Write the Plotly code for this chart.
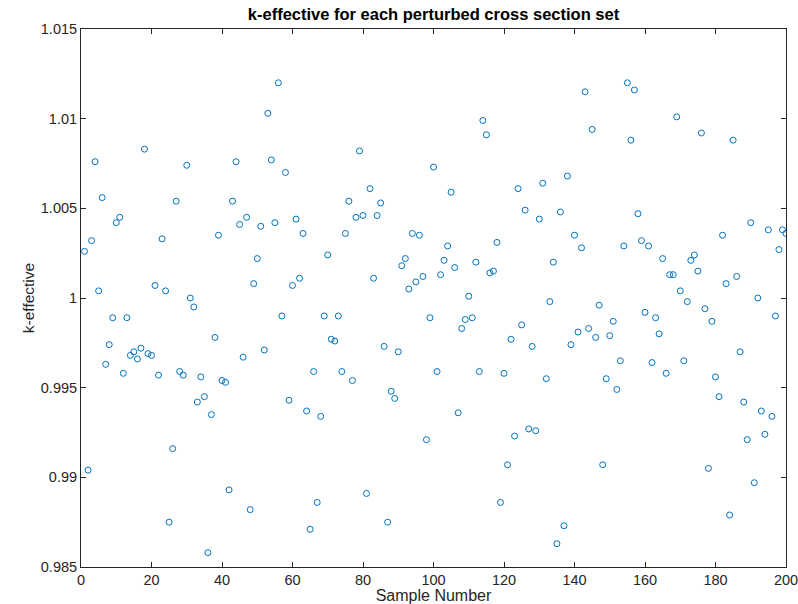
import plotly.graph_objects as go

sample_number = list(range(1, 201))
k_effective = [
    1.0026, 0.9904, 1.0032, 1.0076, 1.0004, 1.0056, 0.9963, 0.9974, 0.9989, 1.0042,
    1.0045, 0.9958, 0.9989, 0.9968, 0.9970, 0.9966, 0.9972, 1.0083, 0.9969, 0.9968,
    1.0007, 0.9957, 1.0033, 1.0004, 0.9875, 0.9916, 1.0054, 0.9959, 0.9957, 1.0074,
    1.0000, 0.9995, 0.9942, 0.9956, 0.9945, 0.9858, 0.9935, 0.9978, 1.0035, 0.9954,
    0.9953, 0.9893, 1.0054, 1.0076, 1.0041, 0.9967, 1.0045, 0.9882, 1.0008, 1.0022,
    1.0040, 0.9971, 1.0103, 1.0077, 1.0042, 1.0120, 0.9990, 1.0070, 0.9943, 1.0007,
    1.0044, 1.0011, 1.0036, 0.9937, 0.9871, 0.9959, 0.9886, 0.9934, 0.9990, 1.0024,
    0.9977, 0.9976, 0.9990, 0.9959, 1.0036, 1.0054, 0.9954, 1.0045, 1.0082, 1.0046,
    0.9891, 1.0061, 1.0011, 1.0046, 1.0053, 0.9973, 0.9875, 0.9948, 0.9944, 0.9970,
    1.0018, 1.0022, 1.0005, 1.0036, 1.0009, 1.0035, 1.0012, 0.9921, 0.9989, 1.0073,
    0.9959, 1.0013, 1.0021, 1.0029, 1.0059, 1.0017, 0.9936, 0.9983, 0.9988, 1.0001,
    0.9989, 1.0020, 0.9959, 1.0099, 1.0091, 1.0014, 1.0015, 1.0031, 0.9886, 0.9958,
    0.9907, 0.9977, 0.9923, 1.0061, 0.9985, 1.0049, 0.9927, 0.9973, 0.9926, 1.0044,
    1.0064, 0.9955, 0.9998, 1.0020, 0.9863, 1.0048, 0.9873, 1.0068, 0.9974, 1.0035,
    0.9981, 1.0028, 1.0115, 0.9983, 1.0094, 0.9978, 0.9996, 0.9907, 0.9955, 0.9979,
    0.9987, 0.9949, 0.9965, 1.0029, 1.0120, 1.0088, 1.0116, 1.0047, 1.0032, 0.9992,
    1.0029, 0.9964, 0.9989, 0.9980, 1.0022, 0.9958, 1.0013, 1.0013, 1.0101, 1.0004,
    0.9965, 0.9998, 1.0021, 1.0024, 1.0015, 1.0092, 0.9994, 0.9905, 0.9987, 0.9956,
    0.9945, 1.0035, 1.0008, 0.9879, 1.0088, 1.0012, 0.9970, 0.9942, 0.9921, 1.0042,
    0.9897, 1.0000, 0.9937, 0.9924, 1.0038, 0.9934, 0.9990, 1.0027, 1.0038, 1.0036,
]

x_ticks = [0, 20, 40, 60, 80, 100, 120, 140, 160, 180, 200]
y_ticks = [0.985, 0.99, 0.995, 1.0, 1.005, 1.01, 1.015]
y_tick_labels = ["0.985", "0.99", "0.995", "1", "1.005", "1.01", "1.015"]

axis_color = "#262626"
font_family = "Liberation Sans, Arial, sans-serif"

fig = go.Figure(
    go.Scatter(
        x=sample_number,
        y=k_effective,
        mode="markers",
        marker=dict(symbol="circle-open", size=6, color="#0072BD",
                    line=dict(width=1, color="#0072BD")),
        showlegend=False,
    )
)

axis_common = dict(
    showgrid=False,
    zeroline=False,
    showline=True,
    linecolor=axis_color,
    linewidth=1,
    mirror="allticks",
    ticks="inside",
    ticklen=5,
    tickwidth=1,
    tickcolor=axis_color,
    tickfont=dict(family=font_family, size=14.5, color=axis_color),
    ticklabeloverflow="allow",
    automargin=False,
)

fig.update_layout(
    width=798,
    height=604,
    margin=dict(l=81, r=12, t=29, b=37),
    paper_bgcolor="white",
    plot_bgcolor="white",
    font=dict(family=font_family, color=axis_color),
    title=dict(
        text="<b>k-effective for each perturbed cross section set</b>",
        x=0.5, xref="paper", xanchor="center",
        y=1 - 14 / 604, yref="container", yanchor="middle",
        font=dict(family=font_family, size=16.5, color="#000000"),
    ),
    xaxis=dict(
        range=[0, 200],
        tickvals=x_ticks,
        title=dict(text="Sample Number", standoff=0,
                   font=dict(family=font_family, size=16, color=axis_color)),
        **axis_common,
    ),
    yaxis=dict(
        range=[0.985, 1.015],
        tickvals=y_ticks,
        ticktext=y_tick_labels,
        title=dict(text="k-effective", standoff=2,
                   font=dict(family=font_family, size=15.5, color=axis_color)),
        **axis_common,
    ),
)

fig.write_html(
    "out.html",
    config={"displayModeBar": False},
    post_script="document.body.style.margin='0';document.body.style.padding='0';",
)
